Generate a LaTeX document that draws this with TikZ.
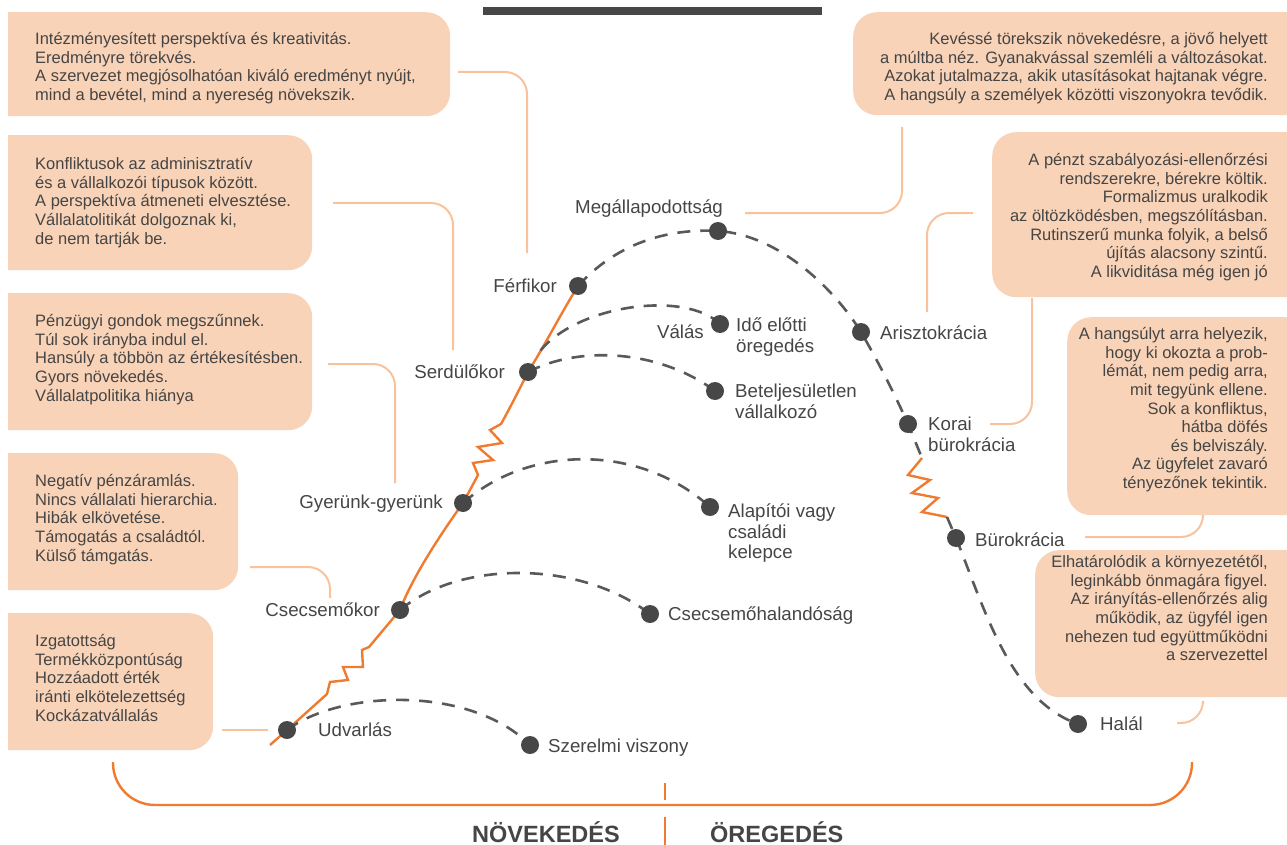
\documentclass[tikz,border=0pt]{standalone}
\usepackage{fontspec}
\setmainfont{Liberation Sans}
\usetikzlibrary{calc}
\definecolor{boxc}{HTML}{F9D3B7}
\definecolor{connc}{HTML}{F8C39C}
\definecolor{orng}{HTML}{F07B30}
\definecolor{txt}{HTML}{454545}
\definecolor{dotc}{HTML}{474747}
\tikzset{
 box/.style={fill=boxc, rounded corners=24pt, draw=none, inner sep=0, anchor=north west},
 btxt/.style={font=\fontsize{16.5}{18.6}\selectfont, text=txt, inner sep=0},
 lbl/.style={font=\fontsize{18.7}{20.6}\selectfont, text=txt, inner sep=0},
 big/.style={font=\fontsize{23.5}{25}\selectfont\bfseries, text=txt, inner sep=0},
 dot/.style={circle, fill=dotc, minimum size=18pt, inner sep=0},
 dsh/.style={draw=dotc!90, line width=2.6pt, dash pattern=on 13pt off 10pt},
 orl/.style={draw=orng, line width=2.4pt, line join=miter},
 conn/.style={draw=connc, line width=2pt, rounded corners=22pt},
 brk/.style={draw=orng, line width=2.4pt, rounded corners=42pt},
}
\newcommand{\firstlinebox}{\rule{0pt}{15.5pt}}
\newcommand{\firstlinelbl}{\rule{0pt}{17.5pt}}
\begin{document}
\begin{tikzpicture}[x=1pt,y=-1pt]
\useasboundingbox (0,0) rectangle (1287,845);
\clip (8,0) rectangle (1287,845);
% top bar
\fill[dotc] (483,7) rectangle (822,15);
% boxes
\node[box, minimum width=470pt, minimum height=104pt] (b1) at (-20,12) {};
\node[box, minimum width=332pt, minimum height=135pt] (b2) at (-20,135) {};
\node[box, minimum width=332pt, minimum height=137pt] (b3) at (-20,293) {};
\node[box, minimum width=258pt, minimum height=137pt] (b4) at (-20,453) {};
\node[box, minimum width=233pt, minimum height=137pt] (b5) at (-20,613) {};
\node[box, minimum width=457pt, minimum height=103pt] (r1) at (853,12) {};
\node[box, minimum width=318pt, minimum height=165pt] (r2) at (992,132) {};
\node[box, minimum width=243pt, minimum height=198pt] (r3) at (1067,317) {};
\node[box, minimum width=275pt, minimum height=147pt] (r4) at (1035,550) {};
% box texts
\node[btxt, align=left, anchor=north west] (t1) at (35,29) {\firstlinebox Intézményesített perspektíva és kreativitás.\\Eredményre törekvés.\\A szervezet megjósolhatóan kiváló eredményt nyújt,\\mind a bevétel, mind a nyereség növekszik.};
\node[btxt, align=left, anchor=north west] (t2) at (35,154) {\firstlinebox Konfliktusok az adminisztratív\\és a vállalkozói típusok között.\\A perspektíva átmeneti elvesztése.\\Vállalatolitikát dolgoznak ki,\\de nem tartják be.};
\node[btxt, align=left, anchor=north west] (t3) at (35,311) {\firstlinebox Pénzügyi gondok megszűnnek.\\Túl sok irányba indul el.\\Hansúly a többön az értékesítésben.\\Gyors növekedés.\\Vállalatpolitika hiánya};
\node[btxt, align=left, anchor=north west] (t4) at (35,471) {\firstlinebox Negatív pénzáramlás.\\Nincs vállalati hierarchia.\\Hibák elkövetése.\\Támogatás a családtól.\\Külső támgatás.};
\node[btxt, align=left, anchor=north west] (t5) at (35,631) {\firstlinebox Izgatottság\\Termékközpontúság\\Hozzáadott érték\\iránti elkötelezettség\\Kockázatvállalás};
\node[btxt, align=right, anchor=north east] (s1) at (1268,29) {\firstlinebox Kevéssé törekszik növekedésre, a jövő helyett\\a múltba néz. Gyanakvással szemléli a változásokat.\\Azokat jutalmazza, akik utasításokat hajtanak végre.\\A hangsúly a személyek közötti viszonyokra tevődik.};
\node[btxt, align=right, anchor=north east] (s2) at (1268,150) {\firstlinebox A pénzt szabályozási-ellenőrzési\\rendszerekre, bérekre költik.\\Formalizmus uralkodik\\az öltözködésben, megszólításban.\\Rutinszerű munka folyik, a belső\\újítás alacsony szintű.\\A likviditása még igen jó};
\node[btxt, align=right, anchor=north east] (s3) at (1268,324) {\firstlinebox A hangsúlyt arra helyezik,\\hogy ki okozta a prob-\\lémát, nem pedig arra,\\mit tegyünk ellene.\\Sok a konfliktus,\\hátba döfés\\és belviszály.\\Az ügyfelet zavaró\\tényezőnek tekintik.};
\node[btxt, align=right, anchor=north east] (s4) at (1268,552) {\firstlinebox Elhatárolódik a környezetétől,\\leginkább önmagára figyel.\\Az irányítás-ellenőrzés alig\\működik, az ügyfél igen\\nehezen tud együttműködni\\a szervezettel};
% connectors
\coordinate (c1a) at (458,72); \coordinate (c1b) at (527,253);
\coordinate (c2a) at (333,203); \coordinate (c2b) at (453,350);
\coordinate (c3a) at (328,364); \coordinate (c3b) at (395,483);
\coordinate (c4a) at (250,567); \coordinate (c4b) at (330,598);
\coordinate (c5a) at (222,730); \coordinate (c5b) at (268,730);
\coordinate (c6a) at (745,213); \coordinate (c6b) at (902,127);
\coordinate (c7a) at (973,213); \coordinate (c7b) at (927,312);
\coordinate (c8a) at (990,424); \coordinate (c8b) at (1032,298);
\coordinate (c9a) at (1085,537); \coordinate (c9b) at (1203,518);
\coordinate (c10a) at (1177,723); \coordinate (c10b) at (1203,703);
\draw[conn] (c1a) -| (c1b);
\draw[conn] (c2a) -| (c2b);
\draw[conn] (c3a) -| (c3b);
\draw[conn] (c4a) -| (c4b);
\draw[conn] (c5a) -- (c5b);
\draw[conn] (c6a) -| (c6b);
\draw[conn] (c7a) -| (c7b);
\draw[conn] (c8a) -| (c8b);
\draw[conn] (c9a) -| (c9b);
\draw[conn] (c10a) -| (c10b);
% bracket
\coordinate (bl) at (113,762); \coordinate (bb) at (665,805); \coordinate (br) at (1192,762);
\draw[brk] (bl) |- (bb) -| (br);
\coordinate (tk1) at (665,783); \coordinate (tk2) at (665,800);
\coordinate (tk3) at (665,817); \coordinate (tk4) at (665,845);
\draw[orng, line width=2.4pt] (tk1) -- (tk2) (tk3) -- (tk4);
\node[big, anchor=base east] (grow) at (620,842) {NÖVEKEDÉS};
\node[big, anchor=base west] (age) at (710,842) {ÖREGEDÉS};
% stage coordinates
\coordinate (udv) at (287,730);
\coordinate (csec) at (400,610);
\coordinate (gyer) at (463,503);
\coordinate (serd) at (528,372);
\coordinate (ferf) at (578,286);
\coordinate (mega) at (718,231);
\coordinate (ariszt) at (861,332);
\coordinate (korai) at (908,424);
\coordinate (burok) at (956,538);
\coordinate (halal) at (1078,724);
\coordinate (szer) at (530,745);
\coordinate (csh) at (650,614);
\coordinate (alap) at (710,507);
\coordinate (betel) at (715,391);
\coordinate (ido) at (720,324);
\coordinate (start) at (270,745);
\coordinate (valas) at ($(serd)!0.25!(ferf)$);
% orange growth line
\draw[orl] (start) -- (udv) -- (327,694) -- (330,682) -- (348,680) -- (343,667) -- (363,667) -- (362,650) -- (369,647) -- (csec)
  .. controls (412,578) and (440,535) .. (gyer)
  -- (478,475) -- (473,463) -- (493,460) -- (478,447) -- (502,443) -- (490,430) -- (501,424)
  .. controls (510,408) and (520,388) .. (serd)
  .. controls (545,345) and (560,315) .. (ferf);
% main dashed curve
\draw[dsh] (ferf) .. controls (615,245) and (665,228) .. (mega)
  .. controls (780,235) and (835,290) .. (ariszt)
  .. controls (880,365) and (895,395) .. (korai) -- (922,458);
\draw[orl] (922,458) -- (908,475) -- (930,480) -- (912,493) -- (938,498) -- (922,512) -- (947,517);
\draw[dsh] (947,517) -- (burok) .. controls (985,610) and (1010,700) .. (halal);
% branches
\draw[dsh] (valas) .. controls (578,305) and (685,290) .. (ido);
\draw[dsh] (serd) .. controls (580,345) and (660,350) .. (betel);
\draw[dsh] (gyer) .. controls (530,444) and (640,444) .. (alap);
\draw[dsh] (csec) .. controls (460,560) and (580,560) .. (csh);
\draw[dsh] (udv) .. controls (340,690) and (470,685) .. (szer);
% dots
\foreach \p in {udv,csec,gyer,serd,ferf,mega,ariszt,korai,burok,halal,szer,csh,alap,betel,ido}
  \node[dot] (d\p) at (\p) {};
% labels
\node[lbl, anchor=base west] (l1) at (318,736) {Udvarlás};
\node[lbl, anchor=base west] (l2) at (548,752) {Szerelmi viszony};
\node[lbl, anchor=base east] (l3) at (380,616) {Csecsemőkor};
\node[lbl, anchor=base west] (l4) at (668,620) {Csecsemőhalandóság};
\node[lbl, anchor=base east] (l5) at (443,508) {Gyerünk-gyerünk};
\node[lbl, anchor=north west, align=left] (l6) at (728,500) {\firstlinelbl Alapítói vagy\\családi\\kelepce};
\node[lbl, anchor=base east] (l7) at (505,378) {Serdülőkor};
\node[lbl, anchor=north west, align=left] (l8) at (735,380) {\firstlinelbl Beteljesületlen\\vállalkozó};
\node[lbl, anchor=north west, align=left] (l9) at (736,314) {\firstlinelbl Idő előtti\\öregedés};
\node[lbl, anchor=base east] (l10) at (704,338) {Válás};
\node[lbl, anchor=base east] (l11) at (557,292) {Férfikor};
\node[lbl, anchor=base west] (l12) at (575,214) {Megállapodottság};
\node[lbl, anchor=base west] (l13) at (880,339) {Arisztokrácia};
\node[lbl, anchor=north west, align=left] (l14) at (928,413) {\firstlinelbl Korai\\bürokrácia};
\node[lbl, anchor=base west] (l15) at (975,546) {Bürokrácia};
\node[lbl, anchor=base west] (l16) at (1100,730) {Halál};
\end{tikzpicture}
\end{document}
